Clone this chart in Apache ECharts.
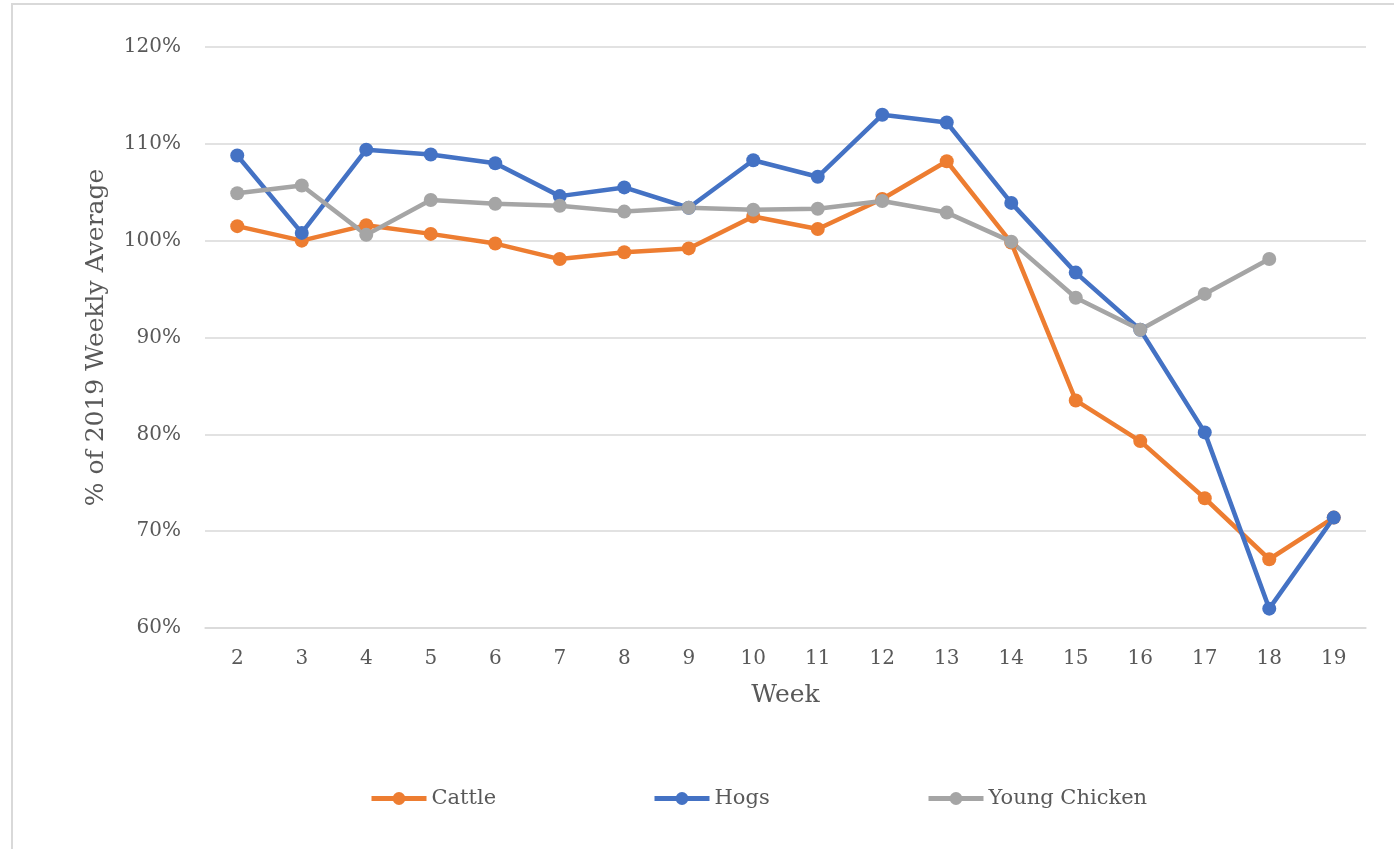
<!DOCTYPE html>
<html>
<head>
<meta charset="utf-8">
<script src="https://cdn.jsdelivr.net/npm/echarts@6/dist/echarts.min.js"></script>
<style>
  html, body { margin: 0; padding: 0; background: #fff; }
  #chart { width: 1394px; height: 849px; }
</style>
</head>
<body>
<div id="chart"></div>
<script>
// week numbers on the x axis
var weeks = ['2', '3', '4', '5', '6', '7', '8', '9', '10', '11', '12', '13', '14', '15', '16', '17', '18', '19']

// % of 2019 weekly average
var cattle = [101.5, 100.0, 101.6, 100.7, 99.7, 98.1, 98.8, 99.2, 102.5, 101.2, 104.3, 108.2, 99.8, 83.5, 79.3, 73.4, 67.1, 71.4]
var hogs = [108.8, 100.8, 109.4, 108.9, 108.0, 104.6, 105.5, 103.4, 108.3, 106.6, 113.0, 112.2, 103.9, 96.7, 90.8, 80.2, 62.0, 71.4]
var youngChicken = [104.9, 105.7, 100.6, 104.2, 103.8, 103.6, 103.0, 103.4, 103.2, 103.3, 104.1, 102.9, 99.9, 94.1, 90.8, 94.5, 98.1, null]

var FONT = 'DejaVu Serif'
var TEXT = '#595959'

var chart = echarts.init(document.getElementById('chart'))

function lineSeries(name, color, data) {
  return {
    name: name,
    type: 'line',
    data: data,
    symbol: 'circle',
    symbolSize: 14,
    lineStyle: { width: 4.5, color: color },
    itemStyle: { color: color },
    emphasis: { disabled: true }
  }
}

function legendAt(name, left) {
  return {
    data: [name],
    left: left,
    top: 788,
    padding: 0,
    itemWidth: 55,
    itemHeight: 16,
    itemGap: 0,
    lineStyle: { width: 5 },
    textStyle: { fontFamily: FONT, fontSize: 21, color: TEXT }
  }
}

chart.setOption({
  animation: false,
  backgroundColor: '#fff',
  graphic: [{
    type: 'polyline',
    shape: { points: [[12, 849], [12, 4], [1394, 4]] },
    style: { stroke: '#d9d9d9', lineWidth: 2, fill: null }
  }],
  legend: [
    legendAt('Cattle', 369),
    legendAt('Hogs', 652),
    legendAt('Young Chicken', 926)
  ],
  grid: { left: 205, right: 28, top: 47, bottom: 221 },
  xAxis: {
    type: 'category',
    data: weeks,
    name: 'Week',
    nameLocation: 'middle',
    nameGap: 55,
    nameTextStyle: { fontFamily: FONT, fontSize: 25, color: TEXT },
    axisLine: { lineStyle: { color: '#d9d9d9', width: 1.5 } },
    axisTick: { show: false },
    axisLabel: { fontFamily: FONT, fontSize: 20, color: TEXT, margin: 21 }
  },
  yAxis: {
    type: 'value',
    min: 60,
    max: 120,
    interval: 10,
    name: '% of 2019 Weekly Average',
    nameLocation: 'middle',
    nameGap: 96,
    nameTextStyle: { fontFamily: FONT, fontSize: 25, color: TEXT },
    axisLine: { show: false },
    axisTick: { show: false },
    splitLine: { lineStyle: { color: '#d9d9d9', width: 1.5 } },
    axisLabel: { fontFamily: FONT, fontSize: 20, color: TEXT, margin: 24, formatter: '{value}%' }
  },
  series: [
    lineSeries('Cattle', '#ED7D31', cattle),
    lineSeries('Hogs', '#4472C4', hogs),
    lineSeries('Young Chicken', '#A5A5A5', youngChicken)
  ]
})
</script>
</body>
</html>
